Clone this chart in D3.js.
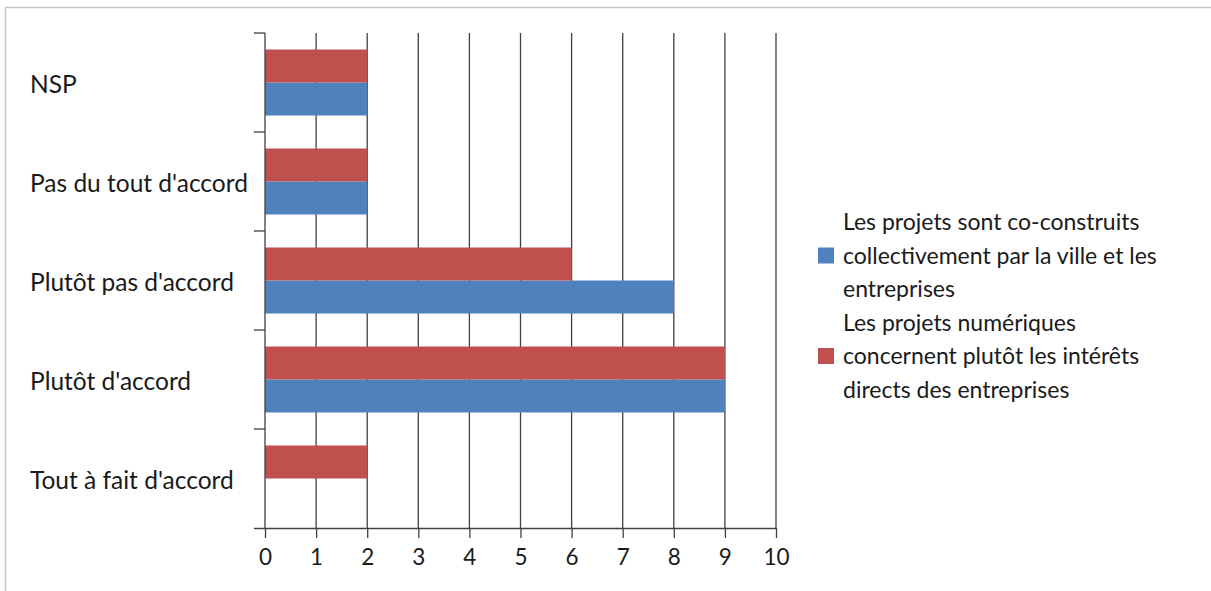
<!DOCTYPE html>
<html>
<head>
<meta charset="utf-8">
<script src="https://cdn.jsdelivr.net/npm/d3@7"></script>
<style>
  html, body { margin: 0; padding: 0; background: #fff; }
  svg { display: block; }
  text { font-family: Lato, "Open Sans", sans-serif; fill: #1a1a1a; }
</style>
</head>
<body>
<svg id="chart" width="1211" height="591"></svg>
<script>
// Survey answers, top to bottom
const categories = ["NSP", "Pas du tout d'accord", "Plutôt pas d'accord", "Plutôt d'accord", "Tout à fait d'accord"];
const seriesNames = [
  "Les projets sont co-construits collectivement par la ville et les entreprises",
  "Les projets numériques concernent plutôt les intérêts directs des entreprises"
];
// Number of answers per category
const coConstruits = [2, 2, 8, 9, 0];
const interetsEntreprises = [2, 2, 6, 9, 2];
const xTicks = [0, 1, 2, 3, 4, 5, 6, 7, 8, 9, 10];
const legendLines = [
  ["Les projets sont co-construits", "collectivement par la ville et les", "entreprises"],
  ["Les projets numériques", "concernent plutôt les intérêts", "directs des entreprises"]
];

const colors = ["#4F81BD", "#C0504D"];
const axisColor = "#404040";
const svg = d3.select("#chart");

// outer frame (only top & left edges fall inside the view)
svg.append("rect").attr("x", 5.5).attr("y", 7.5).attr("width", 1300).attr("height", 700)
  .attr("fill", "none").attr("stroke", "#c8c8c8").attr("stroke-width", 1.5);

const plot = { left: 265, right: 776, top: 33, bottom: 528 };
const x = d3.scaleLinear().domain([0, 10]).range([plot.left, plot.right]);
const y = d3.scaleBand().domain(categories).range([plot.top, plot.bottom]);
// red bar sits above the blue one within each band
const sub = d3.scaleBand().domain([1, 0]).range([0, y.bandwidth()]).paddingOuter(0.5).paddingInner(0);

const g = svg.append("g");

// vertical gridlines
g.selectAll("line.grid").data(xTicks.slice(1)).join("line")
  .attr("class", "grid")
  .attr("x1", d => x(d)).attr("x2", d => x(d))
  .attr("y1", plot.top).attr("y2", plot.bottom)
  .attr("stroke", axisColor).attr("stroke-width", 1.3);

// bars
const values = [coConstruits, interetsEntreprises];
values.forEach((vals, si) => {
  g.selectAll("rect.s" + si).data(categories).join("rect")
    .attr("class", "s" + si)
    .attr("x", x(0))
    .attr("y", (c) => y(c) + sub(si))
    .attr("width", (c, i) => x(vals[i]) - x(0))
    .attr("height", sub.bandwidth())
    .attr("fill", colors[si]);
});

// x axis
const xAxis = d3.axisBottom(x).tickValues(xTicks).tickSize(10).tickPadding(11).tickSizeOuter(0);
const xg = svg.append("g").attr("transform", `translate(0,${plot.bottom})`).call(xAxis);
xg.select(".domain").attr("stroke", axisColor).attr("stroke-width", 1.3)
  .attr("d", `M${plot.left - 11},0.5H${plot.right}`);
xg.selectAll(".tick line").attr("stroke", axisColor).attr("stroke-width", 1.3);
xg.selectAll(".tick text").style("font-family", "Lato, sans-serif").style("font-size", "22.5px").attr("fill", "#1a1a1a");

// y axis: band boundary ticks on the left
const yEdges = categories.map(c => y(c));
const yg = svg.append("g");
yg.append("line").attr("x1", plot.left).attr("x2", plot.left).attr("y1", plot.top).attr("y2", plot.bottom)
  .attr("stroke", axisColor).attr("stroke-width", 1.3);
yg.selectAll("line.tk").data(yEdges).join("line").attr("class", "tk")
  .attr("x1", plot.left - 11).attr("x2", plot.left).attr("y1", d => d).attr("y2", d => d)
  .attr("stroke", axisColor).attr("stroke-width", 1.3);

// category labels, left aligned
svg.selectAll("text.cat").data(categories).join("text").attr("class", "cat")
  .attr("x", 30).attr("y", c => y(c) + y.bandwidth() / 2 + 2)
  .attr("dy", "0.35em").style("font-size", "24.5px").text(c => c);

// legend
const legend = svg.append("g");
const lineH = 33.5;
legendLines.forEach((lines, si) => {
  const top = 222 + si * 3 * lineH;
  lines.forEach((t, li) => {
    legend.append("text").attr("x", 843).attr("y", top + li * lineH).attr("dy", "0.35em")
      .style("font-size", "23px").text(t);
  });
  legend.append("rect").attr("x", 818).attr("y", top + lineH - 8).attr("width", 16).attr("height", 16)
    .attr("fill", colors[si]);
});
</script>
</body>
</html>
